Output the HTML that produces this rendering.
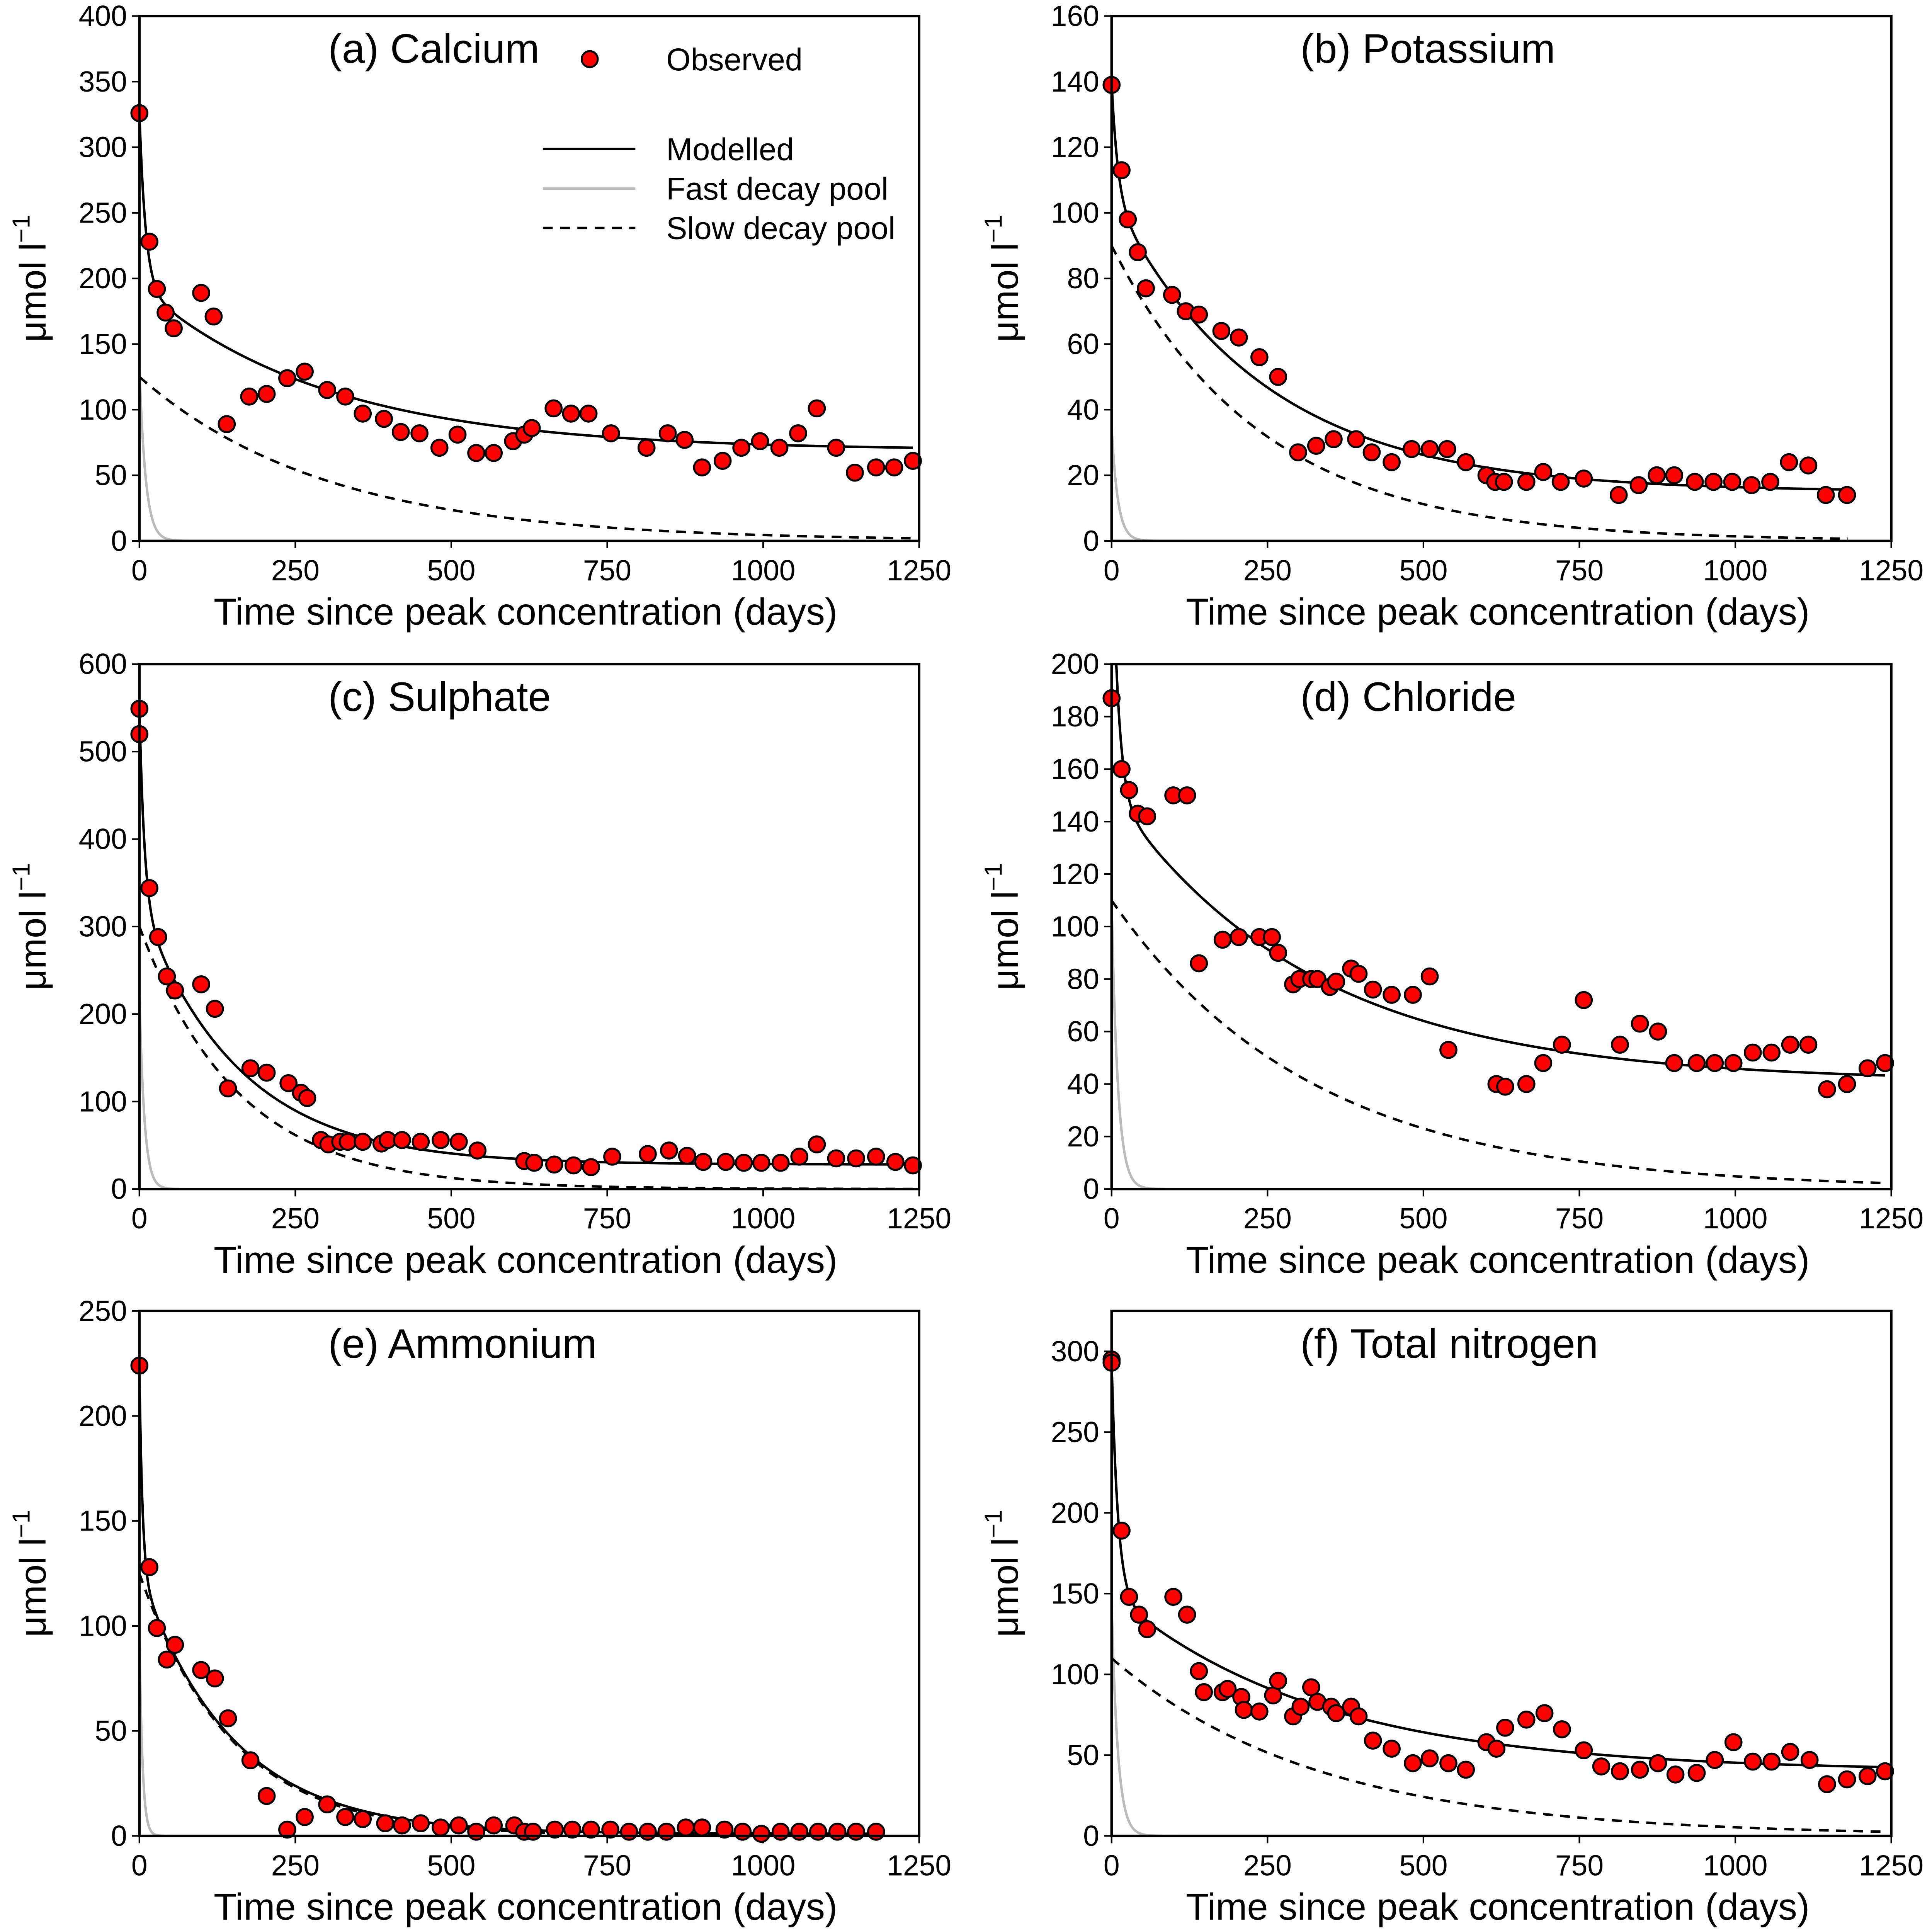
<!DOCTYPE html>
<html><head><meta charset="utf-8">
<style>
html,body{margin:0;padding:0;background:#fff;width:100vw;height:100vh;overflow:hidden;}
svg{display:block;position:absolute;left:0;top:0;width:100vw;height:100vh;font-family:"Liberation Sans",sans-serif;}
</style></head>
<body>
<svg id="fig" viewBox="0 0 1566 1568" preserveAspectRatio="none" xmlns="http://www.w3.org/2000/svg">
<rect width="1566" height="1568" fill="#fff"/>
</svg>
<script>
// ---- data ----
const caX=[0,16,28,42,55,99,119,140,176,204,237,265,301,330,358,392,419,449,481,510,540,568,599,617,629,664,692,720,756,813,847,874,902,935,965,995,1026,1056,1086,1117,1147,1181,1210,1240];
const caY=[326,228,192,174,162,189,171,89,110,112,124,129,115,110,97,93,83,82,71,81,67,67,76,81,86,101,97,97,82,71,82,77,56,61,71,76,71,82,101,71,52,56,56,61];
const kX=[0,16,26,42,55,97,119,140,176,204,237,267,299,328,356,392,417,449,481,510,538,568,601,615,629,665,692,720,757,813,845,874,902,935,965,995,1026,1056,1086,1117,1145,1179];
const kY=[139,113,98,88,77,75,70,69,64,62,56,50,27,29,31,31,27,24,28,28,28,24,20,18,18,18,21,18,19,14,17,20,20,18,18,18,17,18,24,23,14,14];
const soX=[0,0,16,30,44,57,99,121,142,178,204,239,259,269,291,303,322,334,358,388,398,421,451,483,512,542,617,633,665,696,724,758,815,849,878,904,940,969,997,1028,1058,1086,1117,1149,1181,1212,1240];
const soY=[549,520,344,288,243,227,234,206,115,138,133,121,110,104,56,51,54,54,54,52,56,56,54,56,54,44,32,30,28,27,25,37,40,44,38,31,31,30,30,30,37,51,35,35,37,31,27];
const clX=[0,16,28,42,57,99,121,140,178,204,237,257,267,291,301,320,330,350,360,384,396,419,449,483,510,540,617,631,665,692,722,757,815,847,876,902,938,967,997,1028,1058,1088,1117,1147,1179,1212,1240];
const clY=[187,160,152,143,142,150,150,86,95,96,96,96,90,78,80,80,80,77,79,84,82,76,74,74,81,53,40,39,40,48,55,72,55,63,60,48,48,48,48,52,52,55,55,38,40,46,48];
const nhX=[0,16,28,44,57,99,121,142,178,204,237,265,301,330,358,394,421,451,483,512,540,568,601,617,631,666,694,724,755,785,815,845,876,902,938,967,997,1028,1058,1088,1119,1149,1181];
const nhY=[224,128,99,84,91,79,75,56,36,19,3,9,15,9,8,6,5,6,4,5,2,5,5,2,2,3,3,3,3,2,2,2,4,4,3,2,1,2,2,2,2,2,2];
const tnX=[0,0,16,28,44,57,99,121,140,148,178,186,208,212,237,259,267,291,303,320,330,352,360,384,396,419,449,483,510,540,568,601,617,631,665,694,722,757,785,815,847,876,904,938,967,997,1028,1058,1088,1119,1147,1179,1212,1240];
const tnY=[295,293,189,148,137,128,148,137,102,89,89,91,86,78,77,87,96,74,80,92,83,80,76,80,74,59,54,45,48,45,41,58,54,67,72,76,66,53,43,40,41,45,38,39,47,58,46,46,52,47,32,35,37,40];
// model parameters: baseline, slow amplitude, slow tau, fast amplitude, fast tau
const modelBase=[69,15,28,41,1,40];
const slowAmp=[125,90,300,110,125,110];
const slowTau=[300,240,158,320,147,330];
const fastAmp=[132,35,222,110,95,145];
const fastTau=[10,10,8,10,5,10];
const modelEnd=[1240,1180,1240,1240,1180,1240];
// axes
const titles=["(a) Calcium","(b) Potassium","(c) Sulphate","(d) Chloride","(e) Ammonium","(f) Total nitrogen"];
const yMaxs=[400,160,600,200,250,325];
const yTicks=[[0,50,100,150,200,250,300,350,400],[0,20,40,60,80,100,120,140,160],[0,100,200,300,400,500,600],[0,20,40,60,80,100,120,140,160,180,200],[0,50,100,150,200,250],[0,50,100,150,200,250,300]];
const xTicks=[0,250,500,750,1000,1250];
const seriesX=[caX,kX,soX,clX,nhX,tnX];
const seriesY=[caY,kY,soY,clY,nhY,tnY];
const slugs=["calcium","potassium","sulphate","chloride","ammonium","total-nitrogen"];

const NS="http://www.w3.org/2000/svg";
const svg=document.getElementById('fig');
function mk(tag,attrs,parent){const e=document.createElementNS(NS,tag);for(const k in attrs)e.setAttribute(k,attrs[k]);(parent||svg).appendChild(e);return e;}

const lefts=[113,901],tops=[13,539,1064],W=632,H=426;
for(let p=0;p<6;p++){
  const L=lefts[p%2],T=tops[Math.floor(p/2)],B=T+H,R=L+W;
  const sx=v=>L+v/1250*W, sy=v=>B-v/yMaxs[p]*H;
  const g=mk('g',{});
  
  
  const cp=mk('clipPath',{id:'cp'+p},g);mk('rect',{x:L,y:T,width:W,height:H},cp);
  yTicks[p].forEach(v=>{
    mk('line',{x1:L-6,x2:L,y1:sy(v),y2:sy(v),stroke:'#000','stroke-width':1.3},g);
    const t=mk('text',{x:L-10,y:sy(v)+8,'text-anchor':'end','font-size':23.5},g);t.textContent=v;
    
    
  });
  xTicks.forEach(v=>{
    mk('line',{x1:sx(v),x2:sx(v),y1:B,y2:B+6,stroke:'#000','stroke-width':1.3},g);
    const t=mk('text',{x:sx(v),y:B+32,'text-anchor':'middle','font-size':23.5},g);t.textContent=v;
    
    
  });
  const xl=mk('text',{x:L+W/2-3,y:B+68,'text-anchor':'middle','font-size':30.5},g);xl.textContent='Time since peak concentration (days)';
  
  
  const yl=mk('text',{transform:`translate(${L-76},${T+H/2}) rotate(-90)`,'text-anchor':'middle','font-size':30},g);
  yl.innerHTML='μmol l<tspan dy="-13" font-size="20">−1</tspan>';
  
  
  const tt=mk('text',{x:L+153,y:T+38,'font-size':33.5},g);tt.textContent=titles[p];
  
  
  const cg=mk('g',{'clip-path':`url(#cp${p})`},g);
  const fast=[],slow=[],tot=[];
  for(let d=0;d<=modelEnd[p];d+=(d<100?0.5:5)){
    const f=fastAmp[p]*Math.exp(-d/fastTau[p]), s=slowAmp[p]*Math.exp(-d/slowTau[p]);
    if(d<=120)fast.push(sx(d).toFixed(2)+','+sy(f).toFixed(2));
    slow.push(sx(d).toFixed(2)+','+sy(s).toFixed(2));
    tot.push(sx(d).toFixed(2)+','+sy(f+s+modelBase[p]).toFixed(2));
  }
  const fl=mk('polyline',{points:fast.join(' '),fill:'none',stroke:'#bbb','stroke-width':2},cg);
  
  
  const sl=mk('polyline',{points:slow.join(' '),fill:'none',stroke:'#000','stroke-width':2,'stroke-dasharray':'8,6'},cg);
  
  
  const ml=mk('polyline',{points:tot.join(' '),fill:'none',stroke:'#000','stroke-width':2},cg);
  
  
  seriesX[p].forEach((x,i)=>{
    const c=mk('circle',{cx:sx(x),cy:sy(seriesY[p][i]),r:6.5,fill:'#f00',stroke:'#000','stroke-width':1.6},g);
    
    
  });
  mk('rect',{x:L,y:T,width:W,height:H,fill:'none',stroke:'#000','stroke-width':2},g);
}
const lg=mk('g',{});


mk('circle',{cx:478,cy:48,r:6.5,fill:'#f00',stroke:'#000','stroke-width':1.6},lg);
const items=[['Observed',57,null],['Modelled',130,{stroke:'#000'}],['Fast decay pool',162,{stroke:'#bbb'}],['Slow decay pool',194,{stroke:'#000','stroke-dasharray':'8,6'}]];
items.forEach(it=>{
  if(it[2]){const a=Object.assign({x1:440,x2:515,y1:it[1]-9,y2:it[1]-9,'stroke-width':2},it[2]);mk('line',a,lg);}
  const t=mk('text',{x:540,y:it[1],'font-size':25.5},lg);t.textContent=it[0];
  
  
});
</script>
</body></html>
